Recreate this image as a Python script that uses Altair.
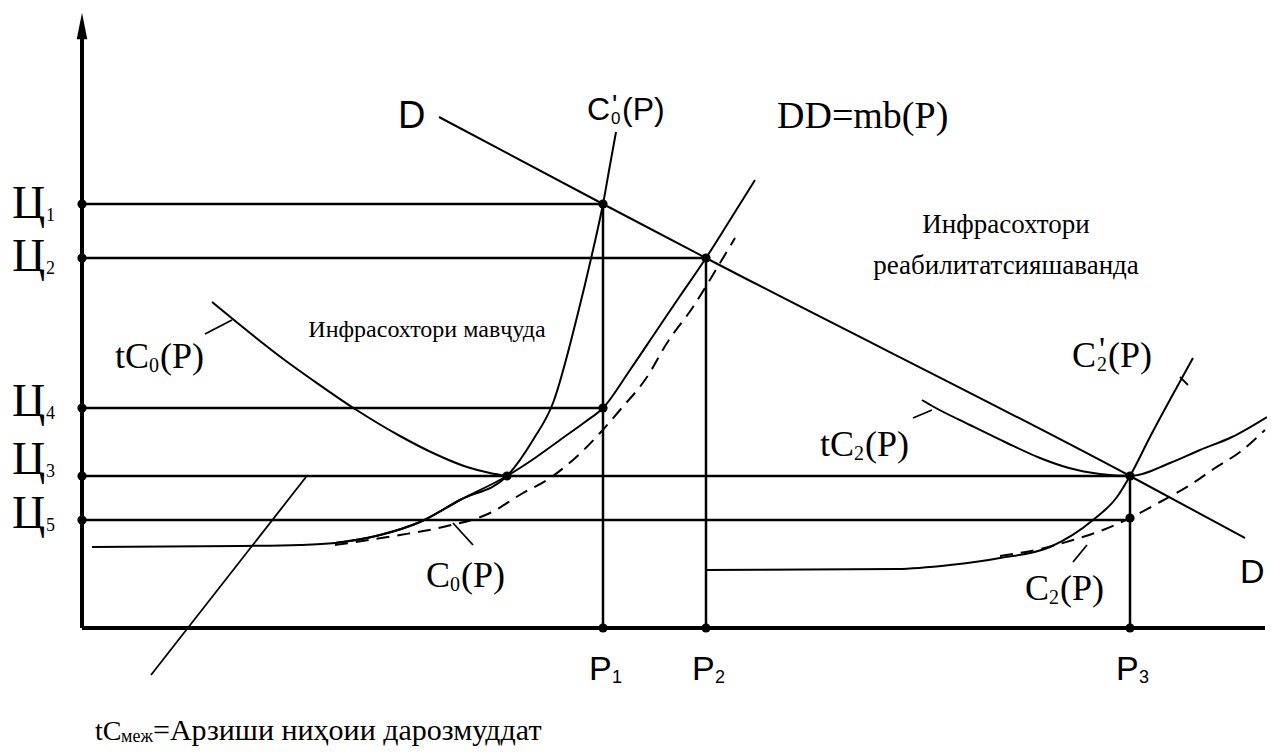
import altair as alt
import pandas as pd

# ---- values (x = quantity, y = price; origin at the axes corner) ----
# long-run curve with its flat start (tC_меж)
lr_x = [10, 158, 218, 253, 298, 338, 378, 425, 453, 478, 503, 521, 548, 573, 598, 624, 648, 673]
lr_y = [81, 82, 83, 85, 93, 106, 128, 152, 170, 188, 206, 220, 258, 295, 332, 370, 408, 448]
# C0'(P) steep marginal cost
c0p_x = [253, 298, 338, 378, 425, 451, 471, 495, 511, 521, 528, 534]
c0p_y = [85, 93, 106, 128, 152, 188, 225, 311, 378, 424, 463, 496]
# C0(P) dashed
c0_x = [253, 318, 361, 408, 441, 465, 491, 518, 538, 565, 585, 611, 638, 653]
c0_y = [83, 93, 101, 115, 135, 148, 168, 195, 218, 251, 285, 321, 365, 390]
# tC0(P) U-curve
tc0_x = [130, 168, 204, 232, 273, 318, 351, 385, 408, 425]
tc0_y = [326, 295, 267, 247, 219, 192, 175, 161, 155, 152]
# demand D
d_x = [357, 521, 624, 1048, 1163]
d_y = [511, 424, 370, 152, 90]
# C2'(P) with flat start from P2
c2p_x = [624, 815, 868, 918, 968, 1011, 1035, 1048, 1068, 1095, 1111]
c2p_y = [58, 59, 63, 70, 81, 108, 131, 152, 191, 241, 270]
# C2(P) dashed
c2_x = [918, 958, 991, 1021, 1048, 1078, 1108, 1133, 1158, 1183]
c2_y = [72, 79, 88, 98, 110, 126, 143, 160, 176, 198]
# tC2(P)
tc2_x = [840, 852, 888, 925, 958, 987, 1018, 1048, 1088, 1118, 1150, 1185]
tc2_y = [228, 221, 203, 185, 170, 160, 154, 152, 165, 178, 191, 211]

# price levels Ц and quantities P
price_subs = ["1", "2", "4", "3", "5"]
price_levels = [424, 370, 220, 152, 108]
price_ends = [521, 624, 521, 1048, 1048]
price_label_y = [410, 357, 212, 154, 100]
qty_subs = ["1", "2", "3"]
qty_values = [521, 624, 1048]
qty_tops = [424, 370, 152]

# intersection points
dot_x = [0, 0, 0, 0, 0, 521, 624, 521, 425, 1048, 1048, 521, 624, 1048]
dot_y = [424, 370, 220, 152, 108, 424, 370, 220, 152, 152, 110, 0, 0, 0]

# pointer strokes next to labels
ptr_x = [123, 371, 831, 1098, 991, 69]
ptr_y = [294, 105, 210, 251, 66, -47]
ptr_x2 = [150, 391, 850, 1106, 1005, 224]
ptr_y2 = [308, 83, 218, 243, 83, 151]

# ---- scales ----
XS = alt.Scale(domain=[-74, 1185], nice=False, zero=False)
YS = alt.Scale(domain=[-118, 620], nice=False, zero=False)
PX = alt.X("x:Q", scale=XS, axis=None)
PY = alt.Y("y:Q", scale=YS, axis=None)


def curve_df(pairs):
    rows = []
    for name, xs, ys in pairs:
        for i, (a, b) in enumerate(zip(xs, ys)):
            rows.append({"curve": name, "x": a, "y": b, "i": i})
    return pd.DataFrame(rows)


solid = curve_df([("lr", lr_x, lr_y), ("c0p", c0p_x, c0p_y), ("tc0", tc0_x, tc0_y),
                  ("d", d_x, d_y), ("c2p", c2p_x, c2p_y), ("tc2", tc2_x, tc2_y)])
dashed = curve_df([("c0", c0_x, c0_y), ("c2", c2_x, c2_y)])

solid_layer = alt.Chart(solid).mark_line(
    color="black", strokeWidth=2, clip=True, interpolate="monotone"
).encode(x=PX, y=PY, detail="curve:N", order="i:Q")
dashed_layer = alt.Chart(dashed).mark_line(
    color="black", strokeWidth=2, strokeDash=[13, 8], clip=True, interpolate="monotone"
).encode(x=PX, y=PY, detail="curve:N", order="i:Q")

# segments: axes, price lines, quantity lines, pointers
seg_rows = [{"x": 0, "y": 0, "x2": 0, "y2": 600, "w": 4},
            {"x": 0, "y": 0, "x2": 1183, "y2": 0, "w": 4}]
for lv, end in zip(price_levels, price_ends):
    seg_rows.append({"x": 0, "y": lv, "x2": end, "y2": lv, "w": 2.5})
for q, top in zip(qty_values, qty_tops):
    seg_rows.append({"x": q, "y": 0, "x2": q, "y2": top, "w": 2.5})
for a, b, c, d in zip(ptr_x, ptr_y, ptr_x2, ptr_y2):
    seg_rows.append({"x": a, "y": b, "x2": c, "y2": d, "w": 1.8})
seg_layer = alt.Chart(pd.DataFrame(seg_rows)).mark_rule(color="black").encode(
    x=PX, y=PY, x2="x2:Q", y2="y2:Q", size=alt.Size("w:Q", scale=None))

arrow = alt.Chart(pd.DataFrame({"x": [0], "y": [602]})).mark_point(
    shape="M0,-1L0.4,1L-0.4,1Z", filled=True, color="black", size=700, opacity=1, strokeWidth=0
).encode(x=PX, y=PY)

dots = alt.Chart(pd.DataFrame({"x": dot_x, "y": dot_y})).mark_circle(
    color="black", size=85, opacity=1
).encode(x=PX, y=PY)

# ---- texts (pieces: main text, small subscripts) ----
serif_left = []
for sub, ly in zip(price_subs, price_label_y):
    serif_left.append({"t": "Ц", "x": -70, "y": ly, "s": 46})
    serif_left.append({"t": sub, "x": -36, "y": ly - 3, "s": 18})
serif_left += [
    # tC0(P)
    {"t": "tC", "x": 33, "y": 260, "s": 36}, {"t": "0", "x": 67, "y": 256, "s": 20},
    {"t": "(P)", "x": 78, "y": 260, "s": 36},
    # C0(P)
    {"t": "C", "x": 344, "y": 41, "s": 36}, {"t": "0", "x": 368, "y": 37, "s": 20},
    {"t": "(P)", "x": 379, "y": 41, "s": 36},
    # DD=mb(P)
    {"t": "DD=mb(P)", "x": 695, "y": 500, "s": 38},
    # tC2(P)
    {"t": "tC", "x": 738, "y": 172, "s": 36}, {"t": "2", "x": 772, "y": 168, "s": 20},
    {"t": "(P)", "x": 783, "y": 172, "s": 36},
    # C'2(P)
    {"t": "C", "x": 990, "y": 261, "s": 36}, {"t": "'", "x": 1017, "y": 268, "s": 34},
    {"t": "2", "x": 1015, "y": 257, "s": 20}, {"t": "(P)", "x": 1026, "y": 261, "s": 36},
    # C2(P)
    {"t": "C", "x": 943, "y": 28, "s": 36}, {"t": "2", "x": 967, "y": 24, "s": 20},
    {"t": "(P)", "x": 978, "y": 28, "s": 36},
    # long-run note
    {"t": "tC", "x": 13, "y": -112, "s": 28}, {"t": "меж", "x": 39, "y": -114, "s": 18},
    {"t": "=Арзиши ниҳоии дарозмуддат", "x": 71, "y": -112, "s": 30},
]
serif_center = [
    {"t": "Инфрасохтори мавҷуда", "x": 345, "y": 291, "s": 24},
    {"t": "Инфрасохтори", "x": 924, "y": 395, "s": 27},
    {"t": "реабилитатсияшаванда", "x": 924, "y": 354, "s": 27},
]
sans_left = [
    {"t": "D", "x": 316, "y": 500, "s": 38},
    {"t": "C", "x": 505, "y": 508, "s": 32}, {"t": "'", "x": 530, "y": 514, "s": 28},
    {"t": "0", "x": 529, "y": 504, "s": 17}, {"t": "(P)", "x": 540, "y": 508, "s": 32},
    {"t": "D", "x": 1158, "y": 45, "s": 34},
]
for sub, q in zip(qty_subs, qty_values):
    sans_left.append({"t": "P", "x": q - 14, "y": -52, "s": 34})
    sans_left.append({"t": sub, "x": q + 9, "y": -55, "s": 18})


def text_layer(rows, font, align):
    return alt.Chart(pd.DataFrame(rows)).mark_text(
        font=font, align=align, baseline="alphabetic", color="black"
    ).encode(x=PX, y=PY, text="t:N", size=alt.Size("s:Q", scale=None))


chart = alt.layer(
    seg_layer, solid_layer, dashed_layer, arrow, dots,
    text_layer(serif_left, "Liberation Serif", "left"),
    text_layer(serif_center, "Liberation Serif", "center"),
    text_layer(sans_left, "Liberation Sans", "left"),
).properties(
    width=1259, height=738, padding=0, autosize=alt.AutoSizeParams(type="none"),
    background="white",
).configure_view(stroke=None)

chart.save("out.html", embed_options={"renderer": "svg", "actions": False})
